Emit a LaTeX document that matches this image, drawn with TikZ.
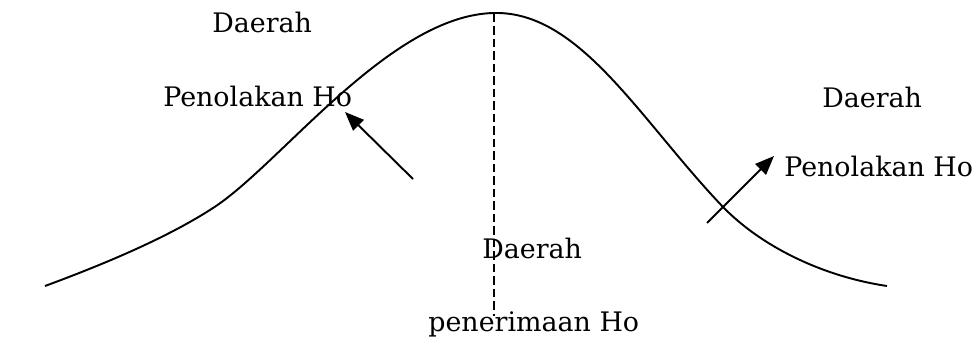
\documentclass[tikz,border=0pt]{standalone}
\usepackage{fontspec}
\setmainfont{DejaVu Serif}
\usepackage{tikz}
\usetikzlibrary{arrows.meta}

\begin{document}
\begin{tikzpicture}[
    x=0.02cm, y=-0.02cm,
    label/.style={anchor=base west, inner sep=0pt, font=\fontsize{15.3}{18}\selectfont},
    curve/.style={line width=1.1pt},
    arrow/.style={-{Triangle[length=0.38cm, width=0.3cm]}, line width=1.1pt},
    axis/.style={dashed, dash pattern=on 0.17cm off 0.08cm, line width=1pt}
]
\useasboundingbox (0,0) rectangle (974,341);
% normal curve
\draw[curve] (45,286) .. controls (110,262) and (170,236) .. (213,208)
    .. controls (280,165) and (390,15) .. (494,13)
    .. controls (580,11) and (640,120) .. (723,207)
    .. controls (760,245) and (820,276) .. (887,286);
\coordinate (peak) at (494,14);
\coordinate (axisend) at (494,316);
\draw[axis] (peak) -- (axisend);
% labels
\node[label] (daerahL) at (212,33) {Daerah};
\node[label] (tolakL) at (163,107) {Penolakan Ho};
\node[label] (daerahR) at (822,108) {Daerah};
\node[label] (tolakR) at (784,176) {Penolakan Ho};
\node[label] (daerahC) at (482,258) {Daerah};
\node[label] (terimaC) at (428,331) {penerimaan Ho};
% arrows
\coordinate (tailL) at (413,179);
\coordinate (tipL) at (345,112);
\coordinate (tailR) at (707,223);
\coordinate (tipR) at (774,156);
\draw[arrow] (tailL) -- (tipL);
\draw[arrow] (tailR) -- (tipR);
\end{tikzpicture}
\end{document}
